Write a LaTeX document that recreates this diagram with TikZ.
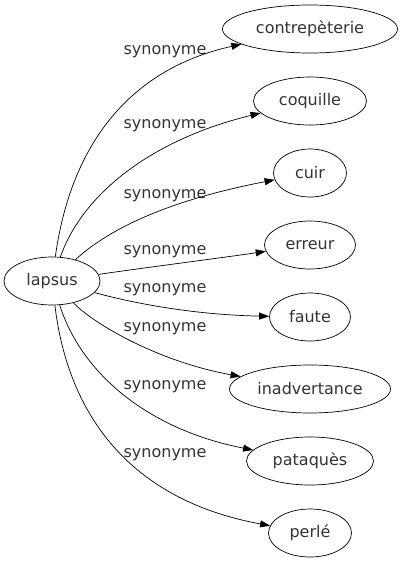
\documentclass[tikz,border=0pt]{standalone}
\usepackage{fontspec}
\setmainfont{DejaVu Sans}
\usetikzlibrary{shapes.geometric,arrows.meta}
\tikzset{
    word/.style={ellipse, draw, inner sep=0pt, minimum height=48pt, text=black!80},
    syn/.style={anchor=base, text=black!80},
    rel/.style={-{Triangle[length=10pt,width=7pt]}}
}
\begin{document}
\begin{tikzpicture}[x=1pt, y=-1pt, line width=0.7pt, font=\fontsize{16}{19}\selectfont]
    \useasboundingbox (0,0) rectangle (403,563);

    % Centre word
    \node[word, minimum width=96pt] (lapsus) at (52,281) {lapsus};

    % Synonyms: name / text / width / y
    \foreach \name/\word/\w/\y in {contrepeterie/contrepèterie/175/29, coquille/coquille/113/101,
            cuir/cuir/73/173, erreur/erreur/91/245, faute/faute/81/317,
            inadvertance/inadvertance/161/389, pataques/pataquès/127/461, perle/perlé/83/533} {
        \node[word, minimum width=\w pt] (\name) at (310,\y) {\word};
    }

    % Edge labels
    \foreach \i/\ly in {1/54.5, 2/128, 3/198, 4/254.5, 5/292.5, 6/331, 7/389.5, 8/457.5} {
        \node[syn] (syn\i) at (165,\ly) {synonyme};
    }

    % Edges
    \draw[rel] (lapsus) .. controls (70,150) and (125,70) .. (contrepeterie);
    \draw[rel] (lapsus) .. controls (82,195) and (150,140) .. (coquille);
    \draw[rel] (lapsus) .. controls (110,228) and (170,200) .. (cuir);
    \draw[rel] (lapsus) .. controls (150,267) and (220,258) .. (erreur);
    \draw[rel] (lapsus) .. controls (140,305) and (200,315) .. (faute);
    \draw[rel] (lapsus) .. controls (95,325) and (160,362) .. (inadvertance);
    \draw[rel] (lapsus) .. controls (82,375) and (150,430) .. (pataques);
    \draw[rel] (lapsus) .. controls (68,415) and (130,500) .. (perle);
\end{tikzpicture}
\end{document}
